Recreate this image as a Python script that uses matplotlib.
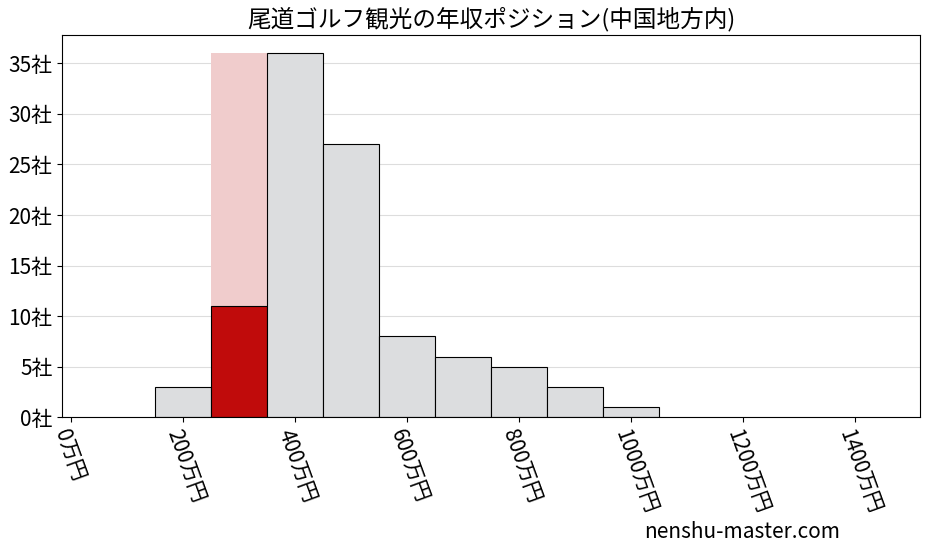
import matplotlib
matplotlib.use("Agg")
import matplotlib.pyplot as plt

plt.rcParams['font.family'] = ['Noto Sans CJK JP', 'DejaVu Sans']

# 年収の階級（万円）と社数
centers = [200, 300, 400, 500, 600, 700, 800, 900, 1000]
counts = [3, 11, 36, 27, 8, 6, 5, 3, 1]
highlight = 300
xticks = [0, 200, 400, 600, 800, 1000, 1200, 1400]
yticks = [0, 5, 10, 15, 20, 25, 30, 35]

fig = plt.figure(figsize=(9.28, 5.57), dpi=100)
ax = fig.add_axes([0.067, 0.251, 0.924, 0.686])

ax.bar(highlight, max(counts), width=100, color='#f0cccc', zorder=1)
colors = ['#c00b0b' if c == highlight else '#dcdddf' for c in centers]
ax.bar(centers, counts, width=100, color=colors, edgecolor='black', linewidth=0.8, zorder=2)

ax.set_xlim(-15, 1515)
ax.set_ylim(0, 37.8)
ax.set_xticks(xticks)
ax.set_xticklabels([f"{x}万円" for x in xticks], rotation=-70, ha='left', rotation_mode='anchor', fontsize=15)
ax.set_yticks(yticks)
ax.set_yticklabels([f"{y}社" for y in yticks], fontsize=15)
ax.grid(axis='y', color='#dddddd', linewidth=0.8, zorder=0)
ax.set_axisbelow(True)
ax.set_title("尾道ゴルフ観光の年収ポジション(中国地方内)", fontsize=17)

fig.text(0.80, 0.035, "nenshu-master.com", fontsize=15, ha='center')

fig.savefig("out.png")
